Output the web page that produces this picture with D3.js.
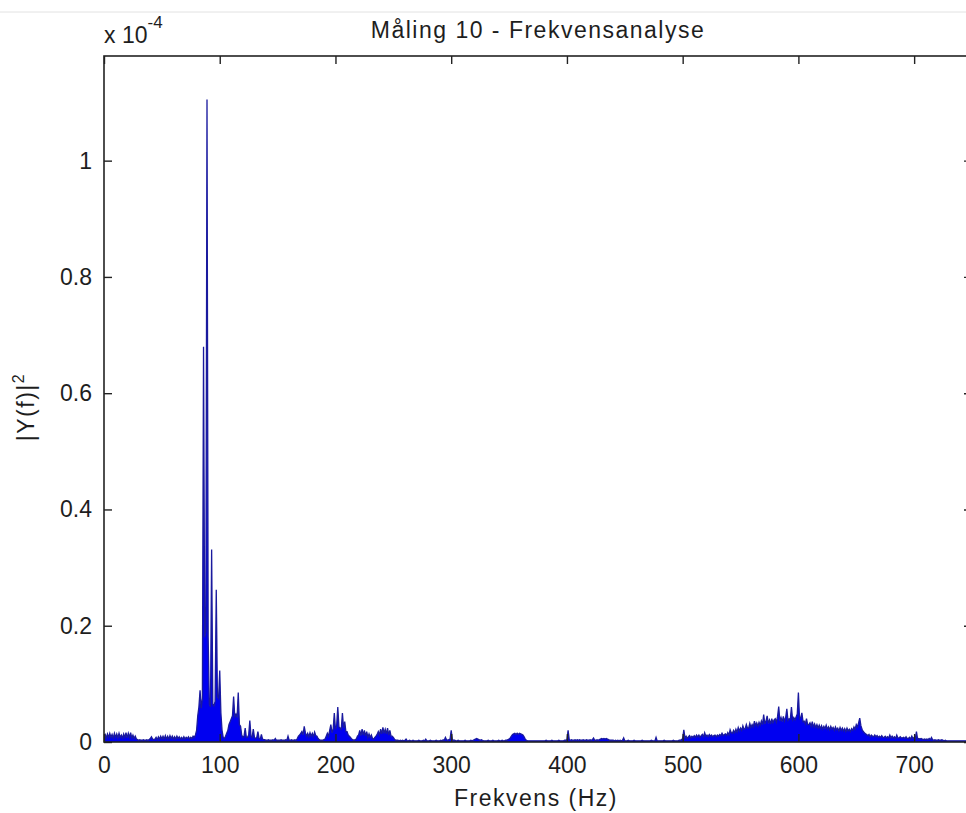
<!DOCTYPE html>
<html>
<head>
<meta charset="utf-8">
<script src="https://cdnjs.cloudflare.com/ajax/libs/d3/7.8.5/d3.min.js"></script>
<style>
  html, body { margin: 0; padding: 0; background: #ffffff; }
  svg { display: block; }
  text { font-family: "Liberation Sans", Arial, Helvetica, sans-serif; fill: #1e1e1e; }
</style>
</head>
<body>
<svg id="chart" width="966" height="813"></svg>
<script>
// ---- data (values in units of 1e-4) ----
const titleText = "Måling 10 - Frekvensanalyse";
const xLabelText = "Frekvens (Hz)";
const xTickValues = [0, 100, 200, 300, 400, 500, 600, 700];
const yTickValues = [0, 0.2, 0.4, 0.6, 0.8, 1.0];
const yTickLabels = ["0", "0.2", "0.4", "0.6", "0.8", "1"];
const freqStepHz = 1;
const powerE4 = [
  0.010, 0.013, 0.007, 0.014, 0.008, 0.015, 0.008, 0.013, 0.007, 0.015,
  0.008, 0.014, 0.007, 0.015, 0.008, 0.012, 0.007, 0.014, 0.008, 0.016,
  0.007, 0.015, 0.008, 0.016, 0.007, 0.012, 0.006, 0.010, 0.005, 0.004,
  0.003, 0.004, 0.003, 0.003, 0.004, 0.003, 0.003, 0.004, 0.003, 0.004,
  0.006, 0.009, 0.005, 0.004, 0.005, 0.008, 0.004, 0.009, 0.005, 0.010,
  0.005, 0.010, 0.005, 0.011, 0.005, 0.010, 0.005, 0.011, 0.006, 0.010,
  0.005, 0.009, 0.005, 0.010, 0.006, 0.009, 0.005, 0.008, 0.005, 0.009,
  0.005, 0.008, 0.006, 0.009, 0.005, 0.008, 0.006, 0.010, 0.008, 0.012,
  0.020, 0.045, 0.060, 0.089, 0.058, 0.075, 0.680, 0.180, 0.190, 1.105,
  0.180, 0.065, 0.060, 0.331, 0.065, 0.062, 0.070, 0.262, 0.078, 0.075,
  0.123, 0.050, 0.020, 0.008, 0.006, 0.010, 0.015, 0.020, 0.030, 0.035,
  0.040, 0.045, 0.078, 0.044, 0.048, 0.042, 0.085, 0.030, 0.027, 0.012,
  0.008, 0.010, 0.024, 0.008, 0.008, 0.012, 0.037, 0.010, 0.008, 0.022,
  0.008, 0.006, 0.008, 0.018, 0.006, 0.005, 0.013, 0.005, 0.004, 0.004,
  0.003, 0.003, 0.004, 0.003, 0.003, 0.003, 0.004, 0.003, 0.006, 0.003,
  0.003, 0.003, 0.003, 0.004, 0.003, 0.003, 0.003, 0.004, 0.003, 0.010,
  0.003, 0.003, 0.004, 0.003, 0.003, 0.004, 0.003, 0.006, 0.010, 0.012,
  0.015, 0.018, 0.012, 0.027, 0.016, 0.010, 0.015, 0.009, 0.016, 0.010,
  0.015, 0.009, 0.017, 0.011, 0.010, 0.006, 0.004, 0.003, 0.003, 0.003,
  0.004, 0.005, 0.010, 0.015, 0.010, 0.020, 0.030, 0.016, 0.022, 0.050,
  0.022, 0.028, 0.060, 0.026, 0.024, 0.022, 0.050, 0.024, 0.035, 0.018,
  0.018, 0.012, 0.010, 0.008, 0.005, 0.004, 0.003, 0.004, 0.005, 0.010,
  0.012, 0.020, 0.011, 0.022, 0.012, 0.020, 0.010, 0.018, 0.008, 0.014,
  0.008, 0.012, 0.006, 0.005, 0.008, 0.010, 0.013, 0.018, 0.012, 0.022,
  0.014, 0.025, 0.015, 0.022, 0.014, 0.024, 0.012, 0.020, 0.010, 0.010,
  0.008, 0.005, 0.003, 0.003, 0.003, 0.002, 0.003, 0.002, 0.003, 0.002,
  0.003, 0.005, 0.002, 0.002, 0.003, 0.002, 0.002, 0.003, 0.002, 0.002,
  0.002, 0.002, 0.003, 0.002, 0.002, 0.002, 0.003, 0.002, 0.005, 0.002,
  0.002, 0.002, 0.003, 0.002, 0.002, 0.002, 0.002, 0.003, 0.002, 0.002,
  0.002, 0.003, 0.002, 0.004, 0.003, 0.008, 0.004, 0.003, 0.004, 0.005,
  0.020, 0.004, 0.003, 0.003, 0.002, 0.002, 0.003, 0.002, 0.002, 0.002,
  0.002, 0.002, 0.003, 0.002, 0.002, 0.002, 0.002, 0.003, 0.002, 0.003,
  0.004, 0.005, 0.006, 0.005, 0.004, 0.003, 0.004, 0.003, 0.002, 0.002,
  0.002, 0.002, 0.003, 0.002, 0.002, 0.002, 0.003, 0.002, 0.002, 0.002,
  0.002, 0.003, 0.002, 0.002, 0.003, 0.002, 0.002, 0.003, 0.003, 0.004,
  0.005, 0.007, 0.010, 0.013, 0.014, 0.015, 0.013, 0.015, 0.013, 0.015,
  0.014, 0.013, 0.012, 0.009, 0.005, 0.003, 0.002, 0.002, 0.002, 0.002,
  0.002, 0.002, 0.002, 0.002, 0.002, 0.002, 0.002, 0.002, 0.002, 0.002,
  0.002, 0.002, 0.003, 0.002, 0.002, 0.002, 0.002, 0.003, 0.002, 0.002,
  0.002, 0.002, 0.002, 0.003, 0.002, 0.002, 0.002, 0.002, 0.003, 0.003,
  0.004, 0.020, 0.004, 0.003, 0.004, 0.003, 0.003, 0.004, 0.003, 0.004,
  0.003, 0.004, 0.003, 0.003, 0.004, 0.003, 0.003, 0.004, 0.003, 0.003,
  0.004, 0.003, 0.004, 0.007, 0.003, 0.003, 0.004, 0.003, 0.004, 0.005,
  0.006, 0.005, 0.006, 0.005, 0.006, 0.005, 0.004, 0.003, 0.003, 0.003,
  0.003, 0.002, 0.003, 0.002, 0.003, 0.002, 0.003, 0.002, 0.003, 0.007,
  0.002, 0.002, 0.002, 0.003, 0.002, 0.002, 0.002, 0.002, 0.003, 0.002,
  0.002, 0.002, 0.002, 0.002, 0.002, 0.003, 0.002, 0.002, 0.002, 0.002,
  0.002, 0.002, 0.002, 0.003, 0.002, 0.002, 0.002, 0.008, 0.002, 0.002,
  0.002, 0.002, 0.002, 0.002, 0.003, 0.002, 0.002, 0.002, 0.002, 0.002,
  0.002, 0.002, 0.003, 0.002, 0.002, 0.002, 0.002, 0.003, 0.003, 0.004,
  0.006, 0.021, 0.007, 0.010, 0.006, 0.009, 0.011, 0.007, 0.010, 0.008,
  0.011, 0.008, 0.012, 0.009, 0.012, 0.008, 0.011, 0.013, 0.009, 0.016,
  0.010, 0.012, 0.009, 0.013, 0.010, 0.012, 0.009, 0.011, 0.012, 0.009,
  0.012, 0.010, 0.013, 0.011, 0.015, 0.011, 0.013, 0.014, 0.011, 0.016,
  0.012, 0.021, 0.016, 0.015, 0.020, 0.016, 0.022, 0.017, 0.025, 0.019,
  0.024, 0.020, 0.028, 0.022, 0.023, 0.030, 0.024, 0.024, 0.032, 0.025,
  0.030, 0.026, 0.036, 0.028, 0.033, 0.027, 0.034, 0.029, 0.036, 0.030,
  0.047, 0.031, 0.036, 0.045, 0.032, 0.038, 0.031, 0.040, 0.033, 0.038,
  0.040, 0.034, 0.044, 0.061, 0.036, 0.042, 0.035, 0.044, 0.036, 0.042,
  0.057, 0.037, 0.040, 0.039, 0.060, 0.038, 0.042, 0.038, 0.043, 0.048,
  0.085, 0.040, 0.042, 0.050, 0.035, 0.036, 0.031, 0.040, 0.030, 0.030,
  0.033, 0.027, 0.035, 0.026, 0.031, 0.025, 0.030, 0.024, 0.029, 0.023,
  0.028, 0.022, 0.027, 0.023, 0.029, 0.022, 0.026, 0.021, 0.027, 0.022,
  0.025, 0.020, 0.026, 0.021, 0.024, 0.019, 0.025, 0.020, 0.024, 0.019,
  0.023, 0.018, 0.024, 0.019, 0.022, 0.018, 0.023, 0.020, 0.026, 0.022,
  0.030, 0.026, 0.033, 0.041, 0.028, 0.022, 0.018, 0.016, 0.014, 0.013,
  0.011, 0.013, 0.009, 0.012, 0.010, 0.009, 0.012, 0.009, 0.011, 0.008,
  0.010, 0.008, 0.011, 0.008, 0.008, 0.010, 0.007, 0.009, 0.007, 0.012,
  0.007, 0.010, 0.007, 0.009, 0.006, 0.012, 0.007, 0.007, 0.009, 0.007,
  0.007, 0.008, 0.006, 0.009, 0.006, 0.006, 0.008, 0.005, 0.010, 0.006,
  0.008, 0.006, 0.018, 0.005, 0.006, 0.005, 0.006, 0.005, 0.004, 0.005,
  0.004, 0.005, 0.004, 0.006, 0.004, 0.008, 0.004, 0.003, 0.004, 0.003,
  0.003, 0.004, 0.003, 0.003, 0.004, 0.003, 0.002, 0.003, 0.002, 0.002,
  0.002, 0.002, 0.002, 0.002, 0.002, 0.002, 0.002, 0.002, 0.002, 0.002,
  0.002, 0.002, 0.002, 0.002, 0.002, 0.002, 0.002, 0.002, 0.002, 0.002,
  0.002
];

// ---- layout ----
const svg = d3.select("#chart");
const W = 966, H = 813;
const plot = { left: 104, right: 972, top: 56, bottom: 742 };
const xMax = 750, yMax = 1.18;

svg.append("rect").attr("width", W).attr("height", H).attr("fill", "#ffffff");
svg.append("line").attr("x1", 0).attr("x2", W).attr("y1", 12).attr("y2", 12)
  .attr("stroke", "#e2e2e2").attr("stroke-width", 1);

const x = d3.scaleLinear().domain([0, xMax]).range([plot.left, plot.right]);
const y = d3.scaleLinear().domain([0, yMax]).range([plot.bottom, plot.top]);

const data = powerE4.map((v, i) => ({ f: i * freqStepHz, v }));

svg.append("clipPath").attr("id", "clip").append("rect")
  .attr("x", plot.left).attr("y", plot.top)
  .attr("width", plot.right - plot.left).attr("height", plot.bottom - plot.top);

const g = svg.append("g").attr("clip-path", "url(#clip)");
g.append("path").datum(data)
  .attr("d", d3.area().x(d => x(d.f)).y0(y(0)).y1(d => y(d.v)))
  .attr("fill", "#0000f0");
g.append("path").datum(data)
  .attr("d", d3.line().x(d => x(d.f)).y(d => y(d.v)))
  .attr("fill", "none").attr("stroke", "#1a1a9e").attr("stroke-width", 1.3)
  .attr("stroke-linejoin", "miter");

// ---- axes ----
const fs = 23;
const axisColor = "#222";
function styleAxis(sel) {
  sel.select(".domain").remove();
  sel.selectAll(".tick line").attr("stroke", axisColor).attr("stroke-width", 1.4);
  sel.selectAll(".tick text").style("font-size", fs + "px").attr("fill", "#1e1e1e");
}

svg.append("g").attr("transform", `translate(0,${plot.bottom})`)
  .call(d3.axisBottom(x).tickValues(xTickValues).tickSizeInner(-8).tickSizeOuter(0).tickPadding(15).tickFormat(d3.format("d")))
  .call(styleAxis);
svg.append("g").attr("transform", `translate(0,${plot.top})`)
  .call(d3.axisTop(x).tickValues(xTickValues).tickSizeInner(-8).tickSizeOuter(0).tickFormat(""))
  .call(styleAxis);
svg.append("g").attr("transform", `translate(${plot.left},0)`)
  .call(d3.axisLeft(y).tickValues(yTickValues).tickSizeInner(-8).tickSizeOuter(0).tickPadding(12)
    .tickFormat((d, i) => yTickLabels[i]))
  .call(styleAxis);
svg.append("g").attr("transform", `translate(${plot.right},0)`)
  .call(d3.axisRight(y).tickValues(yTickValues).tickSizeInner(-8).tickSizeOuter(0).tickFormat(""))
  .call(styleAxis);

// frame
svg.append("rect").attr("x", plot.left).attr("y", plot.top)
  .attr("width", plot.right - plot.left).attr("height", plot.bottom - plot.top)
  .attr("fill", "none").attr("stroke", axisColor).attr("stroke-width", 1.6);

// ---- texts ----
svg.append("text").attr("x", (plot.left + plot.right) / 2).attr("y", 38)
  .attr("text-anchor", "middle").style("font-size", fs + "px").style("letter-spacing", "1.5px")
  .text(titleText);

svg.append("text").attr("x", (plot.left + plot.right) / 2 - 2).attr("y", 806)
  .attr("text-anchor", "middle").style("font-size", fs + "px").style("letter-spacing", "1.5px")
  .text(xLabelText);

const mult = svg.append("text").attr("x", plot.left).attr("y", 43).style("font-size", fs + "px");
mult.append("tspan").text("x 10");
mult.append("tspan").attr("dy", -15).style("font-size", "17px").text("-4");

const yl = svg.append("text")
  .attr("transform", `translate(34,${(plot.top + plot.bottom) / 2 + 8}) rotate(-90)`)
  .attr("text-anchor", "middle").style("font-size", fs + "px").style("letter-spacing", "1.5px");
yl.append("tspan").text("|Y(f)|");
yl.append("tspan").attr("dy", -10).style("font-size", "16px").text("2");
</script>
</body>
</html>
